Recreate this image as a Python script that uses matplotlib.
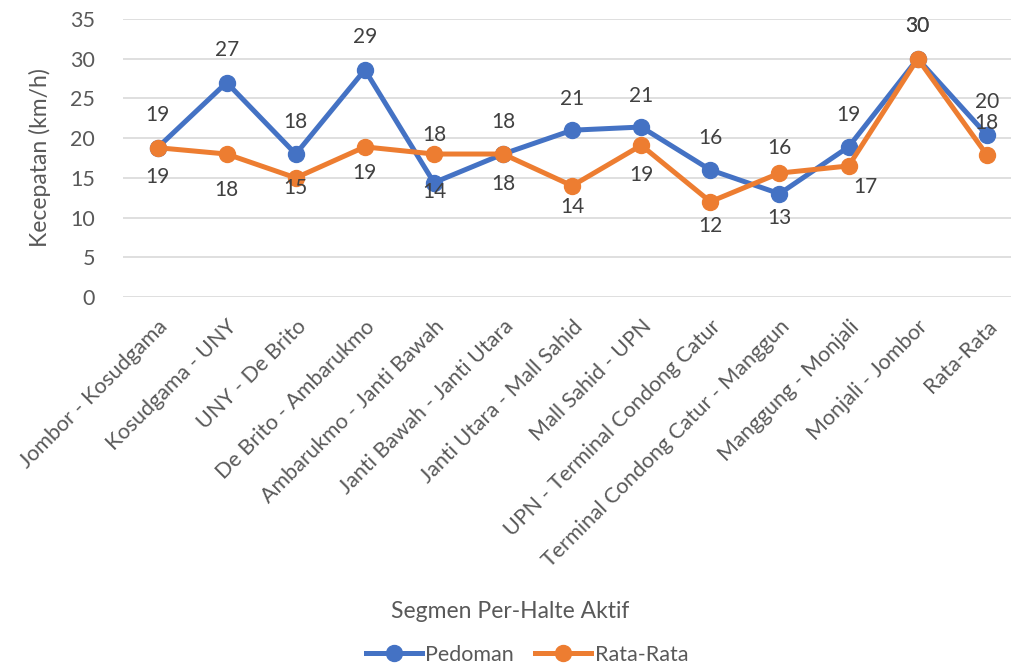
import numpy as np
import matplotlib
matplotlib.use("Agg")
import matplotlib.pyplot as plt

plt.rcParams['font.family'] = ['Lato', 'DejaVu Sans']

segmen = ['Jombor - Kosudgama', 'Kosudgama - UNY', 'UNY - De Brito',
          'De Brito - Ambarukmo', 'Ambarukmo - Janti Bawah',
          'Janti Bawah - Janti Utara', 'Janti Utara - Mall Sahid',
          'Mall Sahid - UPN', 'UPN - Terminal Condong Catur',
          'Terminal Condong Catur - Manggun', 'Manggung - Monjali',
          'Monjali - Jombor', 'Rata-Rata']
pedoman = [18.8, 27.0, 18.0, 28.6, 14.4, 18.0, 21.0, 21.4, 16.0, 13.0, 18.9, 30.0, 20.4]
rata_rata = [18.8, 18.0, 15.0, 18.9, 18.0, 18.0, 14.0, 19.1, 12.0, 15.6, 16.5, 30.0, 17.9]

# posisi label (pixel) relatif ke titik, positif = ke atas
off_ped = [(0, 33), (0, 33), (0, 32), (0, 33), (0, -9), (0, 32), (0, 31),
           (0, 31), (0, 32), (0, -24), (0, 32), (0, 33), (0, 33)]
off_rat = [(0, -29), (0, -36), (0, -10), (0, -26), (0, 19), (0, -30), (0, -21),
           (0, -30), (0, -24), (0, 25), (17, -21), (0, 33), (0, 32)]

biru = '#4472C4'
oranye = '#ED7D31'
teks = '#404040'
abu = '#595959'

fig = plt.figure(figsize=(10.11, 6.66), dpi=100)
ax = fig.add_axes([123/1011, 1-297/666, 1-123/1011, (297-19)/666])

x = np.arange(len(segmen))
ax.plot(x, pedoman, '-o', color=biru, lw=3.6, ms=11.5, label='Pedoman', zorder=3)
ax.plot(x, rata_rata, '-o', color=oranye, lw=3.6, ms=11.5, label='Rata-Rata', zorder=4)

def bulat(v):
  return f"{int(v + 0.5)}"

for i in range(len(x)):
  ax.annotate(bulat(pedoman[i]), (x[i], pedoman[i]), xytext=off_ped[i],
              textcoords='offset pixels', ha='center', va='center',
              fontsize=15, color=teks, zorder=5)
  ax.annotate(bulat(rata_rata[i]), (x[i], rata_rata[i]), xytext=off_rat[i],
              textcoords='offset pixels', ha='center', va='center',
              fontsize=15, color=teks, zorder=5)

ax.set_ylim(0, 35)
ax.set_xlim(-0.5, 12.35)
ax.set_yticks(range(0, 36, 5))
ax.grid(axis='y', color='#D9D9D9', lw=1.2)
ax.set_axisbelow(True)
for s in ax.spines.values():
  s.set_visible(False)
ax.tick_params(axis='both', length=0, labelsize=15.5, colors=abu)
ax.tick_params(axis='y', pad=20)
ax.set_xticks(x)
ax.set_xticklabels(segmen, rotation=45, ha='right', rotation_mode='anchor')
ax.tick_params(axis='x', pad=14)

ax.set_ylabel('Kecepatan (km/h)', fontsize=16.5, color=abu, labelpad=14)
fig.text(510/1011, 1-612/666, 'Segmen Per-Halte Aktif', ha='center', va='center',
         fontsize=16.5, color=abu)
fig.legend(loc='center', bbox_to_anchor=(527/1011, 1-655/666), ncol=2, frameon=False,
           fontsize=15.5, labelcolor=abu, handlelength=2.6, columnspacing=1.0,
           handletextpad=0.15)

fig.savefig('out.png', dpi=100)
